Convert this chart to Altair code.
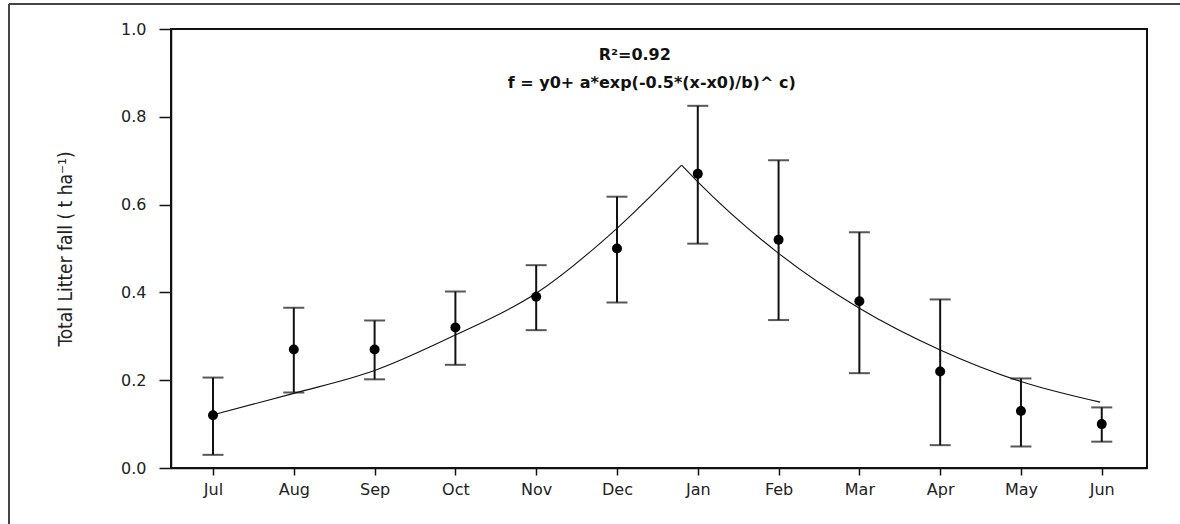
import altair as alt
import pandas as pd

months = ["Jul", "Aug", "Sep", "Oct", "Nov", "Dec", "Jan", "Feb", "Mar", "Apr", "May", "Jun"]
month_pos = list(range(12))
litter_mean = [0.12, 0.27, 0.27, 0.32, 0.39, 0.50, 0.67, 0.52, 0.38, 0.22, 0.13, 0.10]
litter_upper = [0.206, 0.365, 0.336, 0.402, 0.462, 0.618, 0.825, 0.701, 0.537, 0.384, 0.204, 0.138]
litter_lower = [0.030, 0.172, 0.202, 0.235, 0.314, 0.377, 0.511, 0.337, 0.216, 0.052, 0.049, 0.060]

# fitted curve (rising and falling limbs)
fit_rise_x = [0, 1, 2, 3, 4, 5, 5.8]
fit_rise_y = [0.121, 0.170, 0.222, 0.303, 0.398, 0.546, 0.690]
fit_fall_x = [5.8, 6, 7, 8, 9, 10, 10.98]
fit_fall_y = [0.690, 0.652, 0.489, 0.364, 0.269, 0.197, 0.150]

annotations = ["R\u00b2=0.92", "f = y0+ a*exp(-0.5*(x-x0)/b)^ c)"]
ann_x = [5.22, 5.43]
ann_y = [0.94, 0.877]

pts = pd.DataFrame({"pos": month_pos, "month": months, "mean": litter_mean,
                    "upper": litter_upper, "lower": litter_lower})
fit = pd.DataFrame({"x": fit_rise_x + fit_fall_x,
                    "y": fit_rise_y + fit_fall_y,
                    "limb": ["rise"] * len(fit_rise_x) + ["fall"] * len(fit_fall_x)})
ann = pd.DataFrame({"text": annotations, "x": ann_x, "y": ann_y})

month_js = "[" + ",".join(f"'{m}'" for m in months) + "]"

xscale = alt.Scale(domain=[-0.52, 11.56], nice=False, zero=False)
yscale = alt.Scale(domain=[0, 1], nice=False)

xaxis = alt.Axis(values=month_pos, labelExpr=f"{month_js}[datum.value]", title=None,
                 grid=False, tickSize=7, tickWidth=1.5, tickColor="#111",
                 domainColor="#111", domainWidth=1.5, labelPadding=6,
                 labelFont="DejaVu Sans", labelFontSize=16, labelColor="#222")
yaxis = alt.Axis(values=[0, 0.2, 0.4, 0.6, 0.8, 1.0], format=".1f",
                 title="Total Litter fall ( t ha\u207b\u00b9)", grid=False,
                 tickSize=12, tickWidth=1.5, tickColor="#111",
                 domainColor="#111", domainWidth=1.5, labelPadding=13,
                 labelFont="DejaVu Sans", labelFontSize=16, labelColor="#222",
                 titleFont="DejaVu Sans Condensed, Liberation Sans, sans-serif", titleFontSize=19,
                 titleFontWeight="normal", titleColor="#222",
                 titleX=-106, titleY=219.5, titleAngle=-90,
                 titleAlign="center", titleBaseline="middle")

base = alt.Chart(pts)

curve = alt.Chart(fit).mark_line(color="#111", strokeWidth=1.1, interpolate="monotone").encode(
    x=alt.X("x:Q", scale=xscale, axis=xaxis),
    y=alt.Y("y:Q", scale=yscale, axis=yaxis),
    detail="limb:N",
)

bars = base.mark_rule(color="#111", strokeWidth=2).encode(
    x=alt.X("pos:Q", scale=xscale),
    y=alt.Y("lower:Q", scale=yscale),
    y2="upper:Q",
)
cap_hi = base.mark_tick(color="#111", orient="horizontal", size=21, thickness=2).encode(
    x=alt.X("pos:Q", scale=xscale),
    y=alt.Y("upper:Q", scale=yscale),
)
cap_lo = base.mark_tick(color="#111", orient="horizontal", size=21, thickness=2).encode(
    x=alt.X("pos:Q", scale=xscale),
    y=alt.Y("lower:Q", scale=yscale),
)
dots = base.mark_point(filled=True, color="#000", opacity=1, size=100, shape="circle").encode(
    x=alt.X("pos:Q", scale=xscale),
    y=alt.Y("mean:Q", scale=yscale),
)
texts = alt.Chart(ann).mark_text(font="DejaVu Sans", fontWeight="bold", fontSize=16,
                                 color="#111", align="center", baseline="middle").encode(
    x=alt.X("x:Q", scale=xscale),
    y=alt.Y("y:Q", scale=yscale),
    text="text:N",
)

frame_left = alt.Chart(pts).mark_rule(color="#444", strokeWidth=2).encode(
    x=alt.value(-162), y=alt.value(-25), y2=alt.value(600))
frame_top = alt.Chart(pts).mark_rule(color="#444", strokeWidth=2).encode(
    x=alt.value(-162), x2=alt.value(1200), y=alt.value(-25))

chart = alt.layer(curve, bars, cap_hi, cap_lo, dots, texts, frame_left, frame_top).properties(
    width=976, height=439,
    padding={"left": 171, "top": 29, "right": 33, "bottom": 56},
    autosize=alt.AutoSizeParams(type="none"),
    background="white",
).configure_view(stroke="#111", strokeWidth=2)

chart.save("out.html", embed_options={"renderer": "svg", "actions": False})
